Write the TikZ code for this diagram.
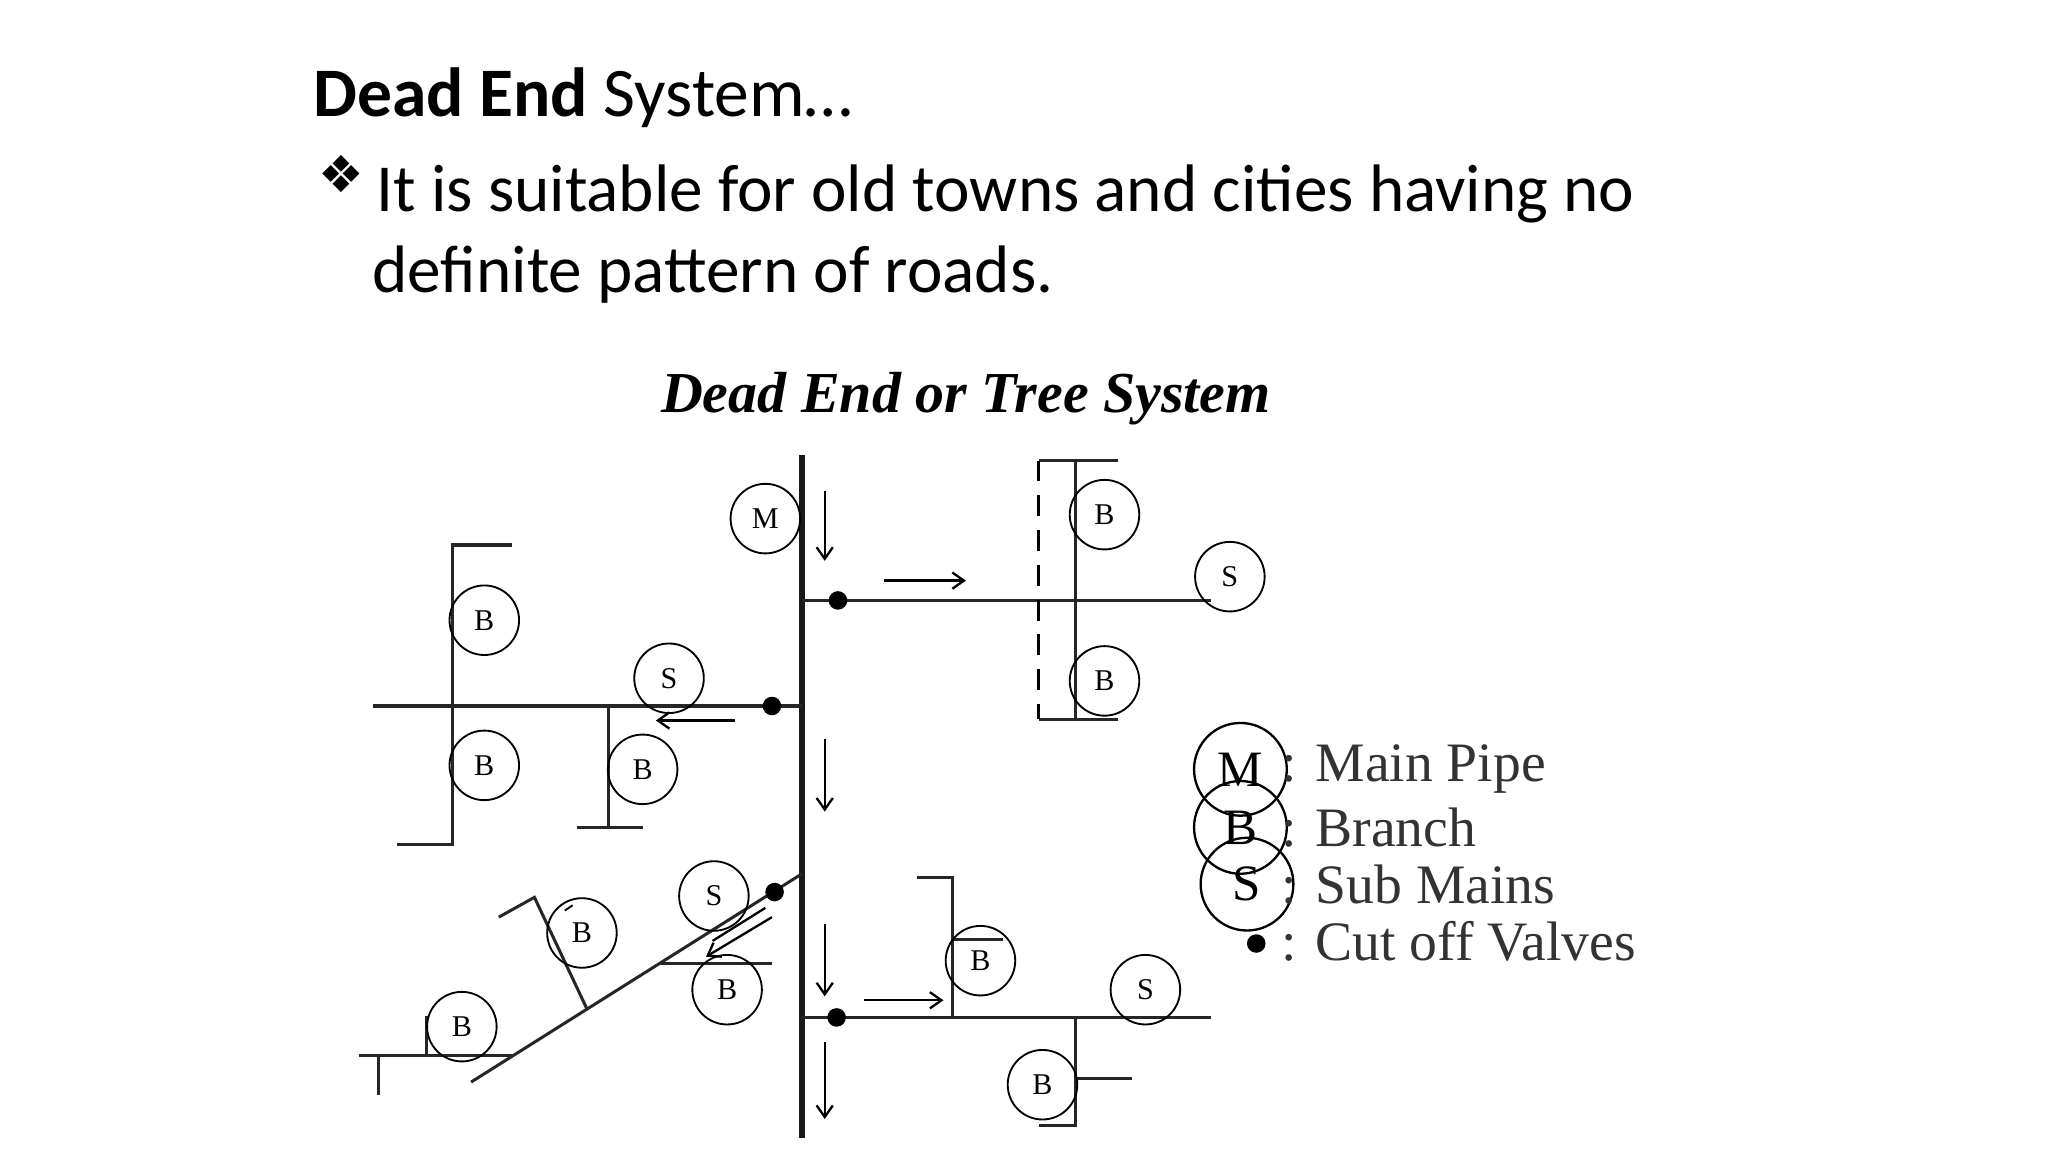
\documentclass[tikz,border=0pt]{standalone}
\usetikzlibrary{arrows.meta}
\usepackage{fontspec}
\setmainfont{Carlito}
\newfontfamily\serif{Liberation Serif}
\newfontfamily\dejavu{DejaVu Sans}
\begin{document}
\begin{tikzpicture}[x=0.02cm,y=-0.02cm,
  pipe/.style={line width=1.3pt,draw=black!85},
  mainpipe/.style={line width=2.6pt,draw=black!90},
  flow/.style={line width=1pt,-{Straight Barb[length=5pt,width=7pt]}},
  lab/.style={circle,draw,line width=0.8pt,minimum size=30,inner sep=0pt,font=\serif\fontsize{13}{13}\selectfont},
  biglab/.style={circle,draw,line width=1pt,minimum size=40,inner sep=0pt,font=\serif\fontsize{22}{22}\selectfont},
  valve/.style={circle,fill=black,minimum size=8pt,inner sep=0pt},
  legtext/.style={anchor=west,font=\serif\fontsize{24}{24}\selectfont,text=black!80}]
\useasboundingbox (0,0) rectangle (1552,873);
\fill[white] (0,0) rectangle (1552,873);
% header text
\node[anchor=base west,inner sep=0pt,font=\fontsize{30}{30}\selectfont] (title) at (237,88) {\textbf{Dead End} System\ldots};
\node[anchor=base west,inner sep=0pt,font=\dejavu\fontsize{22}{22}\selectfont] (bul) at (241,146) {❖};
\node[anchor=base west,inner sep=0pt,font=\fontsize{29}{29}\selectfont] (l1) at (285,160) {It is suitable for old towns and cities having no};
\node[anchor=base west,inner sep=0pt,font=\fontsize{29}{29}\selectfont] (l2) at (282,222) {definite pattern of roads.};
\node[font=\serif\bfseries\itshape\fontsize{25}{25}\selectfont] (dtitle) at (732,302) {Dead End or Tree System};
% main pipe
\coordinate (mt) at (608,345); \coordinate (mb) at (608,862);
\draw[mainpipe] (mt) -- (mb);
\foreach \a/\b in {372/425,560/615,700/755,790/848}{\draw[flow] (625,\a) -- (625,\b);}
\node[lab] (M) at (580,393) {M};
% top right
\coordinate (a0) at (608,455); \coordinate (a1) at (918,455);
\draw[pipe] (a0) -- (a1);
\node[valve] (v1) at (635,455) {};
\draw[flow] (670,440) -- (732,440);
\node[lab] (S1) at (932,437) {S};
\draw[pipe] (787,349) -- (847,349) (815,349) -- (815,545) (787,545) -- (847,545);
\draw[line width=1pt,dash pattern=on 9pt off 6pt] (787,349) -- (787,545);
\node[lab] (B1) at (837,390) {B};
\node[lab] (B2) at (837,516) {B};
% left
\coordinate (b0) at (608,535); \coordinate (b1) at (283,535);
\draw[pipe] (b0) -- (b1);
\node[valve] (v2) at (585,535) {};
\draw[flow] (557,546) -- (497,546);
\node[lab] (S2) at (507,514) {S};
\draw[pipe] (388,413) -- (343,413) -- (343,640) -- (301,640);
\draw[pipe] (461,535) -- (461,627) (437,627) -- (487,627);
\node[lab] (B3) at (367,470) {B};
\node[lab] (B4) at (367,580) {B};
\node[lab] (B5) at (487,583) {B};
% lower left diagonal
\coordinate (c0) at (608,662); \coordinate (c1) at (357,820);
\draw[pipe] (c0) -- (c1);
\node[valve] (v3) at (587,676) {};
\node[lab] (S3) at (541,679) {S};
\draw[line width=1pt] (580,688) -- (540,713);
\draw[flow] (585,695) -- (535,725);
\draw[pipe] (445,765) -- (405,680) -- (378,695);
\draw[line width=0.8pt] (428,690) -- (434,686);
\node[lab] (B6) at (441,707) {B};
\draw[pipe] (500,730) -- (585,730);
\node[lab] (B7) at (551,750) {B};
\draw[pipe] (272,800) -- (388,800) (287,800) -- (287,830) (323,770) -- (323,800);
\node[lab] (B8) at (350,778) {B};
% bottom right
\coordinate (d0) at (608,771); \coordinate (d1) at (918,771);
\draw[pipe] (d0) -- (d1);
\node[valve] (v4) at (634,771) {};
\draw[flow] (655,758) -- (715,758);
\draw[pipe] (695,665) -- (722,665) -- (722,771) (722,712) -- (760,712);
\node[lab] (B9) at (743,728) {B};
\node[lab] (S4) at (868,750) {S};
\draw[pipe] (815,771) -- (815,853) -- (787,853) (815,817) -- (858,817);
\node[lab] (B10) at (790,822) {B};
% legend
\node[biglab] (LM) at (940,583) {M};
\node[legtext] (tM) at (965,583) {: Main Pipe};
\node[biglab] (LB) at (940,627) {B};
\node[legtext] (tB) at (965,627) {: Branch};
\node[biglab] (LS) at (945,670) {S};
\node[legtext] (tS) at (965,670) {: Sub Mains};
\node[valve] (LV) at (952,715) {};
\node[legtext] (tV) at (965,713) {: Cut off Valves};
\end{tikzpicture}
\end{document}
